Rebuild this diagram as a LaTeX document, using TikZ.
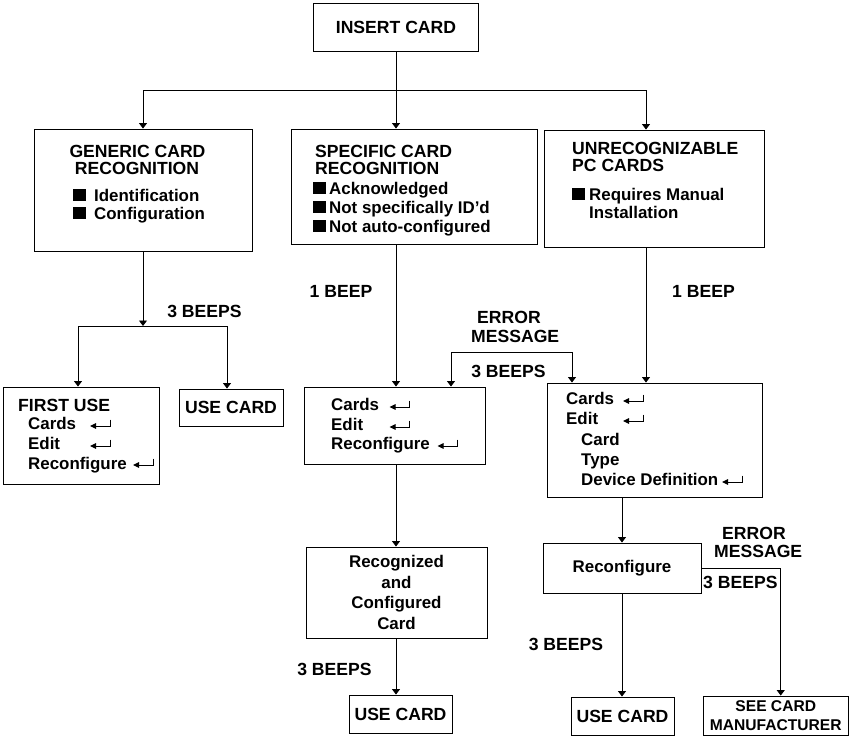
\documentclass[tikz,border=0pt]{standalone}
\usepackage{fontspec}
\setmainfont{Liberation Sans}
\usetikzlibrary{arrows.meta,calc}
\newcommand\capfont{\fontsize{17.6}{20.5}\selectfont\bfseries}
\newcommand\mixfont{\fontsize{16.9}{20.5}\selectfont\bfseries}
\newcommand\smallcapfont{\fontsize{15.6}{19}\selectfont\bfseries}
\tikzset{
  every node/.style={font=\capfont},
  box/.style={draw,line width=0.9pt,inner sep=0pt,align=center},
  lbl/.style={inner sep=0pt,anchor=base west},
  lblc/.style={inner sep=0pt,anchor=base},
  mx/.style={font=\mixfont},
  arr/.style={line width=0.9pt,-{Triangle[length=5.5pt,width=8pt]}},
  barr/.style={line width=0.9pt,{Triangle[length=5.5pt,width=8pt]}-{Triangle[length=5.5pt,width=8pt]}},
  bul/.style={fill=black},
  ret/.pic={\draw[line width=1pt,-{Triangle[length=6pt,width=5.5pt]}] (10,-6.5) -- (10,0) -- (-10,0);}
}
\begin{document}
\begin{tikzpicture}[x=1pt,y=-1pt]
\useasboundingbox (0,0) rectangle (849,736);
% boxes
\node[box,minimum width=165pt,minimum height=48pt] (insert) at (396,27) {INSERT CARD};
\node[box,minimum width=218pt,minimum height=122pt] (gen) at (143,190) {};
\node[box,minimum width=246pt,minimum height=115pt] (spec) at (414,186.5) {};
\node[box,minimum width=220pt,minimum height=117pt] (unr) at (654,188.5) {};
\node[box,minimum width=156pt,minimum height=97pt] (first) at (81,435.5) {};
\node[box,minimum width=104pt,minimum height=37pt] (use1) at (231,407.5) {USE CARD};
\node[box,minimum width=181pt,minimum height=77pt] (cards2) at (394.5,425.5) {};
\node[box,minimum width=215pt,minimum height=114pt] (cardsR) at (654.5,440) {};
\node[box,mx,minimum width=181pt,minimum height=91pt] (recog) at (396.5,592.5) {Recognized\\and\\Configured\\Card};
\node[box,minimum width=103pt,minimum height=38pt] (use2) at (400.5,714) {USE CARD};
\node[box,mx,minimum width=158pt,minimum height=50pt] (reconf) at (622,568) {Reconfigure};
\node[box,minimum width=103pt,minimum height=38pt] (use3) at (622.5,716) {USE CARD};
\node[box,font=\smallcapfont,minimum width=145.5pt,minimum height=39.5pt] (see) at (775.75,715.75) {SEE CARD\\MANUFACTURER};

% generic card text
\node[lblc] (g1) at (137.5,157) {GENERIC CARD};
\node[lblc] (g2) at (137,174) {RECOGNITION};
\fill[bul] (73,189) rectangle (86,201);
\node[lbl,mx] (g3) at (94,201) {Identification};
\fill[bul] (73,207) rectangle (86,219);
\node[lbl,mx] (g4) at (94,219) {Configuration};

% specific card text
\node[lbl] (s1) at (315,157) {SPECIFIC CARD};
\node[lbl] (s2) at (315,174) {RECOGNITION};
\fill[bul] (313,182) rectangle (326,194);
\node[lbl,mx] (s3) at (329,194) {Acknowledged};
\fill[bul] (313,201) rectangle (326,213);
\node[lbl,mx] (s4) at (329,213) {Not specifically ID'd};
\fill[bul] (313,220) rectangle (326,232);
\node[lbl,mx] (s5) at (329,232) {Not auto-configured};

% unrecognizable text
\node[lbl] (u1) at (572,154) {UNRECOGNIZABLE};
\node[lbl] (u2) at (572,171) {PC CARDS};
\fill[bul] (572,188) rectangle (585,200);
\node[lbl,mx] (u3) at (589,200) {Requires Manual};
\node[lbl,mx] (u4) at (589,218) {Installation};

% first use text
\node[lbl] (f1) at (18,411) {FIRST USE};
\node[lbl,mx] (f2) at (28,429) {Cards};
\node[lbl,mx] (f3) at (28,449) {Edit};
\node[lbl,mx] (f4) at (28,469) {Reconfigure};
\pic at (100,426) {ret};
\pic at (100,446) {ret};
\pic at (143,465) {ret};

% specific menu text
\node[lbl,mx] (c1) at (331,410) {Cards};
\node[lbl,mx] (c2) at (331,430) {Edit};
\node[lbl,mx] (c3) at (331,449) {Reconfigure};
\pic at (399.5,407) {ret};
\pic at (399.5,427) {ret};
\pic at (447.5,446) {ret};

% right menu text
\node[lbl,mx] (r1) at (566,404) {Cards};
\node[lbl,mx] (r2) at (566,424) {Edit};
\node[lbl,mx] (r3) at (581,445) {Card};
\node[lbl,mx] (r4) at (581,465) {Type};
\node[lbl,mx] (r5) at (581,485) {Device Definition};
\pic at (633,401) {ret};
\pic at (633,421) {ret};
\pic at (732,482) {ret};

% labels
\node[lblc] (l1) at (204.5,317) {3 BEEPS};
\node[lblc] (l2) at (341,297) {1 BEEP};
\node[lbl] (l3) at (672,297) {1 BEEP};
\node[lbl] (l4) at (477,323) {ERROR};
\node[lbl] (l5) at (471,342) {MESSAGE};
\node[lblc] (l6) at (508.5,377) {3 BEEPS};
\node[lblc] (l7) at (334.5,675) {3 BEEPS};
\node[lblc] (l8) at (566,650) {3 BEEPS};
\node[lbl] (l9) at (722,539) {ERROR};
\node[lbl] (l10) at (714,557) {MESSAGE};
\node[lbl] (l11) at (703,588) {3 BEEPS};

% connectors
\coordinate (jt) at (396,90);
\draw[arr] (insert) -- (insert |- spec.north);
\draw[arr] (jt) -| (gen.north);
\draw[arr] (jt) -| ([xshift=-8pt]unr.north);

\coordinate (jg) at (143,326);
\draw[arr] (gen) -- (jg);
\draw[arr] (jg) -| ([xshift=-3pt]first.north);
\draw[arr] (jg) -| ([xshift=-4pt]use1.north);

\draw[arr] (spec.south -| insert) -- (cards2.north -| insert);
\draw[arr] (cards2.south -| insert) -- (recog.north -| insert);
\draw[arr] (recog.south -| insert) -- (use2.north -| insert);

\draw[arr] ([xshift=-8pt]unr.south) -- ([xshift=-8pt]unr.south |- cardsR.north);

\coordinate (e1) at (451,352);
\coordinate (e2) at (572,352);
\draw[barr] (e1 |- cards2.north) -- (e1) -- (e2) -- (e2 |- cardsR.north);

\draw[arr] (reconf.north |- cardsR.south) -- (reconf.north);
\draw[arr] (reconf) -- (reconf |- use3.north);
\draw[arr] (reconf.east) -| ([xshift=5pt]see.north);
\end{tikzpicture}
\end{document}
